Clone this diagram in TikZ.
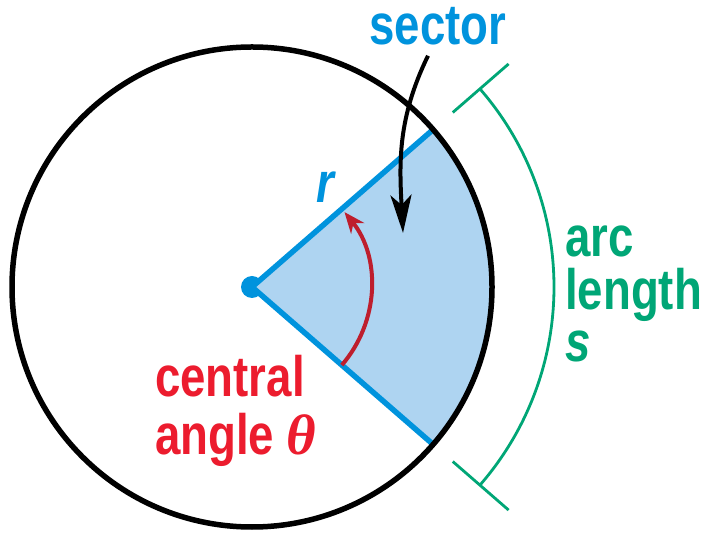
\documentclass[tikz,border=0pt]{standalone}
\usepackage{fontspec}
\newfontfamily\lblfont[FakeStretch=0.8]{Liberation Sans}
\newfontfamily\thetafont{Liberation Serif}
\usetikzlibrary{arrows.meta}
\definecolor{secblue}{RGB}{0,147,221}
\definecolor{secfill}{RGB}{174,212,241}
\definecolor{angred}{RGB}{236,28,46}
\definecolor{sweepred}{RGB}{190,30,45}
\definecolor{arcgreen}{RGB}{0,166,118}
\tikzset{
  lbl/.style     ={font=\lblfont\bfseries\fontsize{57}{57}\selectfont,
                   inner sep=0pt, anchor=base west},
  rim/.style     ={draw=black, line width=5.5pt},
  spoke/.style   ={draw=secblue, line width=5.5pt},
  hub/.style     ={circle, fill=secblue, inner sep=0pt, minimum size=22pt},
  sweep/.style   ={draw=sweepred, line width=4pt,
                   -{Stealth[length=21pt, width=17pt]}},
  pointer/.style ={draw=black, line width=4pt,
                   -{Stealth[length=38pt, width=21pt, inset=10pt]}},
  arcmark/.style ={draw=arcgreen, line width=2.8pt},
}

\begin{document}
\begin{tikzpicture}[x=1pt, y=1pt]
  \useasboundingbox (0,0) rectangle (706,535);
  \node[hub] (O) at (252,248) {};

  % ---------------- sector and circle -----------------
  \fill[secfill] (O.center) -- ++(-41:240) arc[start angle=-41, end angle=41, radius=240] -- cycle;
  \draw[spoke] (O.center) -- ++(41:240) coordinate (rtop);
  \draw[spoke] (O.center) -- ++(-41:240) coordinate (rbot);
  \draw[rim] (O.center) circle[radius=240];

  % ---------------- central angle ---------------------
  \draw[sweep] (O.center) ++(-41:119) arc[start angle=-41, end angle=39, radius=119];

  % ---------------- arc length bracket ----------------
  \draw[arcmark] (O.center) ++(-41:302) arc[start angle=-41, end angle=41, radius=302];
  \draw[arcmark] (O.center) ++(41:266) -- ++(41:74);
  \draw[arcmark] (O.center) ++(-41:266) -- ++(-41:74);

  % ---------------- labels ----------------------------
  \node[lbl, text=secblue, anchor=base] (sector) at (438,490) {sector};
  \node[lbl, text=secblue] (r) at (316,332) {\itshape r};
  \node[lbl, text=angred] (central) at (155,138) {central};
  \node[lbl, text=angred] (angle) at (155,80) {angle {\thetafont\bfseries\itshape θ}};
  \node[lbl, text=arcgreen] (arc) at (565,278) {arc};
  \node[lbl, text=arcgreen] (length) at (565,225) {length};
  \node[lbl, text=arcgreen] (s) at (565,173) {\itshape s};

  % ---- pointer from the label into the sector ----
  \coordinate (tail) at ([xshift=-10pt, yshift=-10pt]sector.south);
  \coordinate (tip) at (403,302);
  \draw[pointer] (tail) to[out=-116, in=93] (tip);
\end{tikzpicture}
\end{document}
